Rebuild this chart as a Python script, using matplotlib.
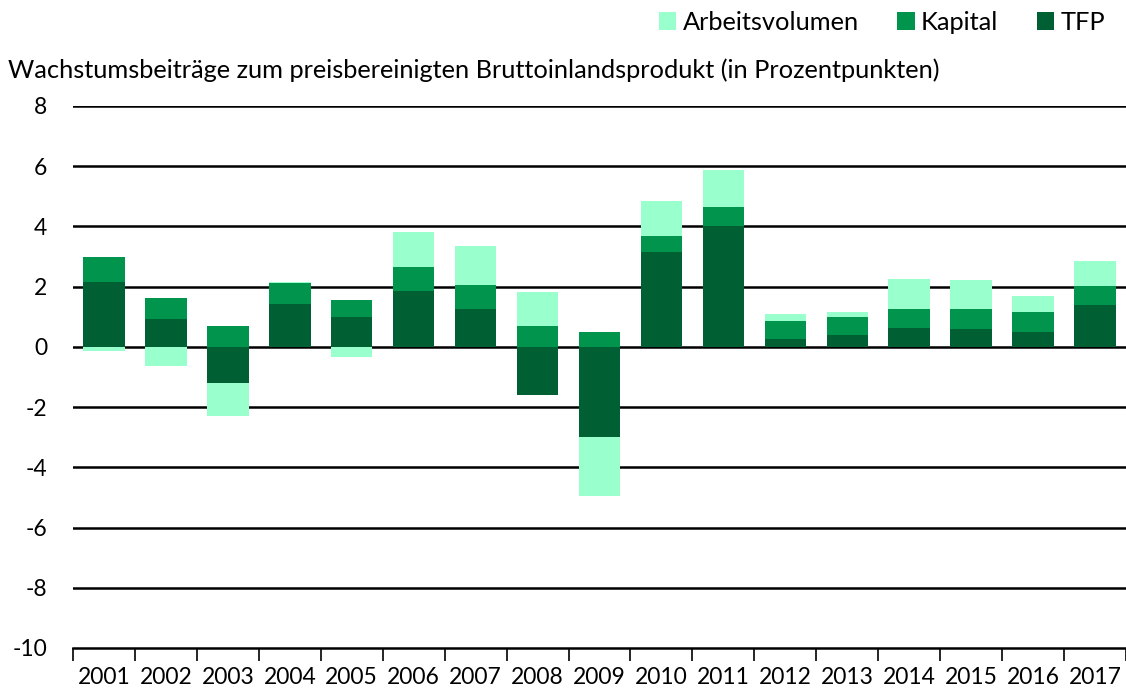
import numpy as np
import matplotlib.pyplot as plt
from matplotlib.patches import Patch

plt.rcParams['font.family'] = ['Lato', 'DejaVu Sans']
plt.rcParams['axes.unicode_minus'] = False

years = [str(y) for y in range(2001, 2018)]
tfp = [2.17, 0.91, -1.20, 1.41, 0.99, 1.84, 1.25, -1.60, -2.98, 3.15, 4.01,
       0.25, 0.38, 0.64, 0.61, 0.51, 1.40]
kapital = [0.83, 0.73, 0.70, 0.70, 0.57, 0.82, 0.79, 0.71, 0.49, 0.54, 0.64,
           0.62, 0.61, 0.62, 0.65, 0.64, 0.63]
arbeit = [-0.12, -0.63, -1.11, 0.03, -0.32, 1.14, 1.32, 1.12, -1.96, 1.16, 1.23,
          0.23, 0.17, 0.99, 0.97, 0.53, 0.83]

series = [('TFP', tfp, '#005f33'),
          ('Kapital', kapital, '#00944c'),
          ('Arbeitsvolumen', arbeit, '#99ffcc')]

fig = plt.figure(figsize=(11.26, 6.95), dpi=100)
ax = fig.add_axes([73 / 1126, 1 - 648 / 695, 1 - 73 / 1126, (648 - 106) / 695])

# stacked bars, positives and negatives stacked separately

x = np.arange(len(years))
pos_base = np.zeros(len(years))
neg_base = np.zeros(len(years))
for name, vals, color in series:
    vals = np.array(vals)
    bottom = np.where(vals >= 0, pos_base, neg_base)
    ax.bar(x, vals, bottom=bottom, width=0.67, color=color,
           edgecolor='none', zorder=3)
    pos_base += np.where(vals >= 0, vals, 0)
    neg_base += np.where(vals < 0, vals, 0)

ax.set_ylim(-10, 8)
ax.set_xlim(-0.5, len(years) - 0.5)
ax.set_yticks(np.arange(-10, 9, 2))
for yv in np.arange(-8, 9, 2):
    ax.axhline(yv, color='black', lw=1.8, zorder=1)

for s in ['left', 'right', 'top']:
    ax.spines[s].set_visible(False)
ax.spines['bottom'].set_linewidth(1.8)

ax.set_xticks(np.arange(-0.5, len(years), 1.0))
ax.set_xticklabels([])
ax.set_xticks(x, minor=True)
ax.set_xticklabels(years, minor=True, fontsize=16.5)
ax.tick_params(axis='x', which='major', length=9, width=1.2, direction='out')
ax.tick_params(axis='x', which='minor', length=0, pad=14)
ax.tick_params(axis='y', length=0, labelsize=16.5, pad=18.5)

fig.text(0.007, 1 - 70 / 695, 'Wachstumsbeiträge zum preisbereinigten '
         'Bruttoinlandsprodukt (in Prozentpunkten)', fontsize=18.3, va='center')

handles = [Patch(facecolor=c, label=n) for n, _, c in
           [series[2], series[1], series[0]]]
fig.legend(handles=handles, loc='upper right', bbox_to_anchor=(1.002, 1.017),
           ncol=3, frameon=False, fontsize=18.3, handlelength=0.7,
           handleheight=0.7, handletextpad=0.25, columnspacing=1.5)

fig.savefig('out.png', dpi=100)
